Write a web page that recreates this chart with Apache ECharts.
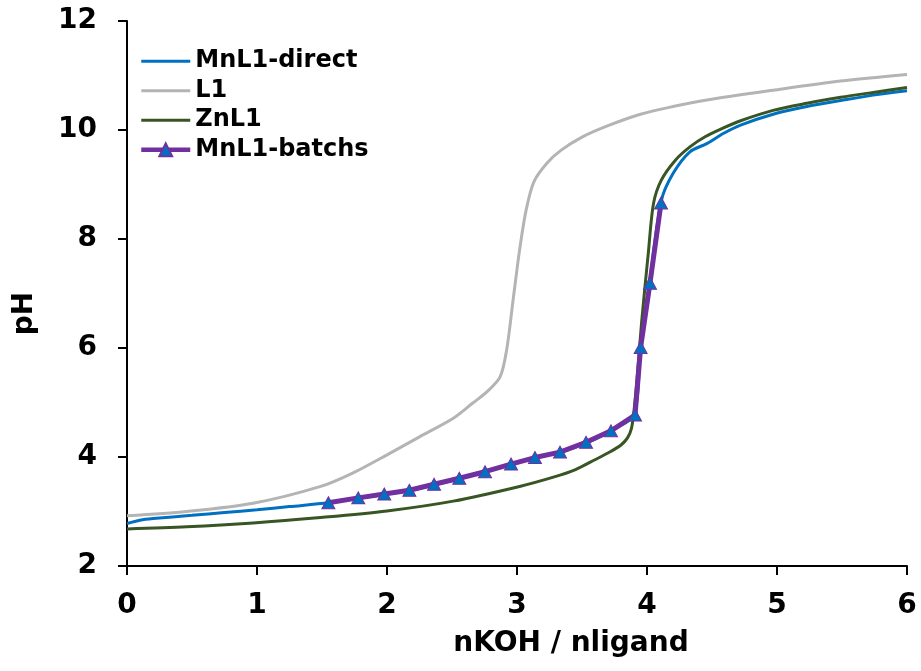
<!DOCTYPE html>
<html>
<head>
<meta charset="utf-8">
<script src="https://cdn.jsdelivr.net/npm/echarts@6/dist/echarts.min.js"></script>
<style>html,body{margin:0;padding:0;background:#fff}#c{width:921px;height:671px}</style>
</head>
<body>
<div id="c"></div>
<script>
const seriesNames = ['MnL1-direct', 'L1', 'ZnL1', 'MnL1-batchs'];
const xTicks = [0, 1, 2, 3, 4, 5, 6];
const yTicks = [2, 4, 6, 8, 10, 12];

const directX = [0, 0.1, 0.2, 0.5, 0.75, 1.0, 1.25, 1.549, 1.8, 2.0, 2.2, 2.4, 2.6, 2.8, 3.0, 3.2, 3.4, 3.6, 3.75, 3.9, 3.95, 4.02, 4.11, 4.2, 4.33, 4.46, 4.59, 4.72, 4.97, 5.23, 5.49, 5.74, 6.0];
const directY = [2.78, 2.84, 2.87, 2.93, 2.98, 3.03, 3.09, 3.16, 3.25, 3.32, 3.40, 3.51, 3.63, 3.76, 3.90, 4.02, 4.14, 4.33, 4.52, 4.77, 6.0, 7.19, 8.7, 9.2, 9.6, 9.75, 9.94, 10.09, 10.29, 10.43, 10.54, 10.64, 10.72];

const l1X = [0, 0.46, 0.97, 1.49, 1.74, 2.0, 2.25, 2.51, 2.66, 2.77, 2.87, 2.92, 2.97, 3.02, 3.07, 3.13, 3.23, 3.34, 3.5, 3.7, 3.95, 4.2, 4.46, 4.97, 5.49, 6.0];
const l1Y = [2.92, 3.00, 3.15, 3.46, 3.71, 4.04, 4.37, 4.71, 4.99, 5.2, 5.47, 5.96, 6.88, 7.80, 8.53, 9.05, 9.39, 9.63, 9.87, 10.08, 10.29, 10.43, 10.55, 10.73, 10.9, 11.02];

const znX = [0, 0.46, 0.97, 1.49, 2.0, 2.51, 3.02, 3.28, 3.45, 3.6, 3.72, 3.8, 3.85, 3.88, 3.9, 3.92, 3.96, 4.01, 4.05, 4.11, 4.22, 4.33, 4.45, 4.58, 4.72, 4.97, 5.23, 5.49, 5.74, 6.0];
const znY = [2.68, 2.72, 2.79, 2.89, 3.01, 3.19, 3.46, 3.63, 3.77, 3.95, 4.1, 4.22, 4.35, 4.52, 4.85, 5.35, 6.51, 7.74, 8.65, 9.08, 9.45, 9.69, 9.88, 10.03, 10.17, 10.36, 10.49, 10.6, 10.69, 10.78];

const batchX = [1.549, 1.779, 1.979, 2.172, 2.362, 2.556, 2.754, 2.954, 3.138, 3.331, 3.531, 3.723, 3.908, 3.951, 4.023, 4.108];
const batchY = [3.16, 3.25, 3.32, 3.39, 3.50, 3.61, 3.73, 3.87, 3.99, 4.09, 4.27, 4.48, 4.77, 6.01, 7.19, 8.66];

const pairs = (xs, ys) => xs.map((x, i) => [x, ys[i]]);
const FONT = 'DejaVu Sans';
const lineIcon = 'path://M0,0L49,0L49,3L0,3Z';

const chart = echarts.init(document.getElementById('c'), null, {renderer: 'canvas'});
chart.setOption({
  backgroundColor: '#ffffff',
  animation: false,
  grid: {left: 127, right: 14, top: 21, bottom: 105, containLabel: false},
  legend: {
    orient: 'vertical', left: 139, top: 49, padding: 0, itemGap: 5,
    itemWidth: 49, itemHeight: 16,
    data: [
      {name: seriesNames[0], icon: lineIcon},
      {name: seriesNames[1], icon: lineIcon},
      {name: seriesNames[2], icon: lineIcon},
      {name: seriesNames[3], lineStyle: {width: 4.5}}
    ],
    textStyle: {fontFamily: FONT, fontWeight: 'bold', fontSize: 24, color: '#000', lineHeight: 24.5}
  },
  xAxis: {
    type: 'value', min: xTicks[0], max: xTicks[xTicks.length - 1], interval: 1,
    name: 'nKOH / nligand', nameLocation: 'middle', nameGap: 64,
    nameTextStyle: {fontFamily: FONT, fontWeight: 'bold', fontSize: 28, color: '#000', padding: [0, 0, 0, 108]},
    axisLine: {onZero: false, lineStyle: {color: '#000', width: 2}},
    axisTick: {inside: false, length: 9, lineStyle: {color: '#000', width: 2}},
    axisLabel: {fontFamily: FONT, fontWeight: 'bold', fontSize: 28, color: '#000', margin: 26},
    splitLine: {show: false}
  },
  yAxis: {
    type: 'value', min: yTicks[0], max: yTicks[yTicks.length - 1], interval: 2,
    name: 'pH', nameLocation: 'middle', nameGap: 88,
    nameTextStyle: {fontFamily: FONT, fontWeight: 'bold', fontSize: 28, color: '#000', padding: [0, 40, 0, 0]},
    axisLine: {show: true, lineStyle: {color: '#000', width: 2}},
    axisTick: {show: true, inside: false, length: 9, lineStyle: {color: '#000', width: 2}},
    axisLabel: {fontFamily: FONT, fontWeight: 'bold', fontSize: 28, color: '#000', margin: 30},
    splitLine: {show: false}
  },
  series: [
    {name: seriesNames[0], type: 'line', data: pairs(directX, directY), symbol: 'none', smooth: 0.3,
     lineStyle: {color: '#0070C0', width: 3}, itemStyle: {color: '#0070C0'}},
    {name: seriesNames[1], type: 'line', data: pairs(l1X, l1Y), symbol: 'none', smooth: 0.3,
     lineStyle: {color: '#B4B4B4', width: 3}, itemStyle: {color: '#B4B4B4'}},
    {name: seriesNames[2], type: 'line', data: pairs(znX, znY), symbol: 'none', smooth: 0.3,
     lineStyle: {color: '#375623', width: 3}, itemStyle: {color: '#375623'}},
    {name: seriesNames[3], type: 'line', data: pairs(batchX, batchY), symbol: 'triangle', symbolSize: [13, 12], showSymbol: true,
     lineStyle: {color: '#7030A0', width: 5}, itemStyle: {color: '#0070C0', borderColor: '#7030A0', borderWidth: 1}}
  ]
});
</script>
</body>
</html>
